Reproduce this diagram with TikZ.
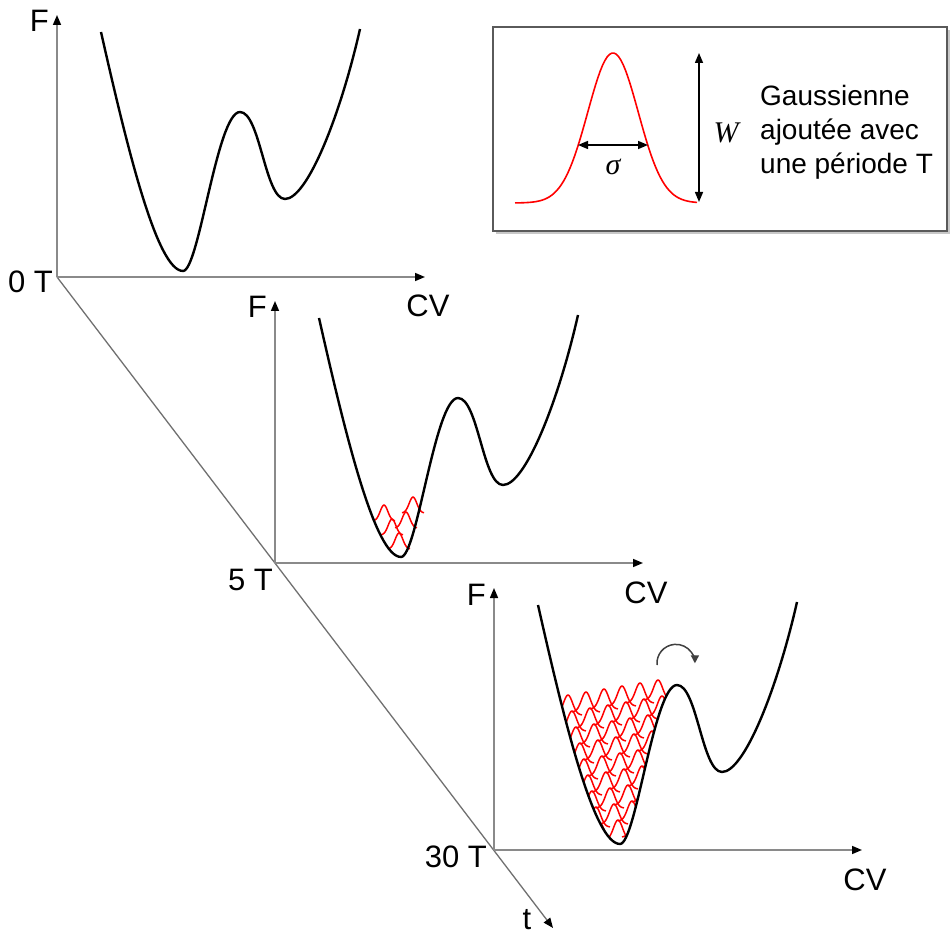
\documentclass[tikz,border=0pt]{standalone}
\usepackage{fontspec}
\setmainfont{Liberation Sans}
\newfontfamily\greekfont{Liberation Serif}
\usetikzlibrary{arrows.meta, calc, positioning, shadows}
\definecolor{axgray}{HTML}{8A8A8A}
\definecolor{tgray}{HTML}{707070}
\definecolor{boxgray}{HTML}{5A5A5A}
\definecolor{shgray}{HTML}{C8C8C8}
\newcommand{\fespath}{(44,245) .. controls (70,130) and (100,6) .. (126,6)
  .. controls (142,6) and (160,165) .. (183,165)
  .. controls (203,165) and (208,78) .. (228,78)
  .. controls (250,78) and (283,160) .. (303,248)}
\newcommand{\wellpath}{(44,245) .. controls (70,130) and (100,6) .. (126,6)
  .. controls (142,6) and (160,165) .. (183,165) -- cycle}

\begin{document}
\begin{tikzpicture}[x=1pt, y=1pt,
  axis/.style={draw=axgray, line width=1.5pt,
    -{Triangle[length=10pt, width=8pt, color=black]}},
  fes/.style={draw=black, line width=2.4pt, line join=round},
  bump/.style={draw=red, line width=1.5pt},
  lbl/.style={font=\fontsize{31}{36}\selectfont, inner sep=0pt},
  small/.style={font=\fontsize{28}{34}\selectfont, inner sep=0pt},
  greek/.style={font=\fontsize{30}{34}\selectfont\greekfont\itshape, inner sep=0pt},
  inset/.style={rectangle, draw=boxgray, line width=2pt, fill=white,
    minimum width=454pt, minimum height=204pt,
    general shadow={fill=shgray, shadow xshift=3pt, shadow yshift=-3pt}},
  arr/.style={black, line width=1.5pt,
    {Triangle[length=10pt, width=8pt]}-{Triangle[length=10pt, width=8pt]}},
]
\useasboundingbox (0,0) rectangle (952,935);

% Origins
\coordinate (o1) at (57,658);
\coordinate (o2) at (275,372);
\coordinate (o3) at (494,85);
\coordinate (tend) at (553,7);

% Time axis
\draw[draw=tgray, line width=1.3pt,
  -{Triangle[length=10pt, width=8pt, color=black]}] (o1) -- (tend);
\node[lbl, anchor=base] (t) at (527,6) {t};

% Gaussians after 5 T
\begin{scope}[shift={(o2)}]
  \foreach \bx/\by in {124/30, 117/44, 131/51, 109/58, 138/66}
    \draw[bump] plot[domain=-11:11, samples=21]
      ({\bx+\x}, {\by-16+16*exp(-(\x/3.8)*(\x/3.8)/2)});
\end{scope}

% Gaussians after 30 T
\begin{scope}[shift={(o3)}]
  \clip \wellpath;
  \foreach \k in {0,...,8}
    \foreach \j in {-6,...,4}
      \draw[bump] plot[domain=-14:14, samples=25]
        ({124+18*\j-4*\k+\x}, {10+3*\j+16*\k+20*exp(-(\x/4.5)*(\x/4.5)/2)});
\end{scope}

% Panels
\foreach \i/\lab/\dx/\dy in {1/0 T/-4/-16, 2/5 T/-2/-27, 3/30 T/-7/-17}{
  \coordinate (f\i) at ($(o\i)+(0,262)$);
  \coordinate (cv\i) at ($(o\i)+(368,0)$);
  \draw[axis] (o\i) -- (f\i);
  \draw[axis] (o\i) -- (cv\i);
  \node[lbl, anchor=base east] (lf\i) at ($(f\i)+(-8,-17)$) {F};
  \node[lbl, anchor=base] (lcv\i) at ($(cv\i)+(3,-40)$) {CV};
  \node[lbl, anchor=base east] (lt\i) at ($(o\i)+(\dx,\dy)$) {\lab};
  \draw[fes, shift={(o\i)}] \fespath;
}

% Barrier crossing
\coordinate (hop) at (657,270);
\draw[draw=black!75, line width=1.5pt, -{Triangle[length=8pt, width=8pt]}]
  (hop) arc[start angle=185, end angle=0, radius=19];

% Inset
\node[inset] (box) at (720,806) {};
\draw[red, line width=1.6pt] plot[domain=-98:84, samples=80]
  ({613+\x}, {732+150*exp(-(\x/25.2)*(\x/25.2)/2)});
\coordinate (sl) at (578,790);
\coordinate (sr) at (648,790);
\draw[arr] (sl) -- (sr);
\node[greek] (sig) at (613,768) {σ};
\coordinate (wt) at (699,882);
\coordinate (wb) at (699,733);
\draw[arr] (wt) -- (wb);
\node[greek] (w) at (726,802) {W};
\node[small, anchor=west, align=left] (desc) at (760,803)
  {Gaussienne\\ajoutée avec\\une période T};

\end{tikzpicture}
\end{document}
